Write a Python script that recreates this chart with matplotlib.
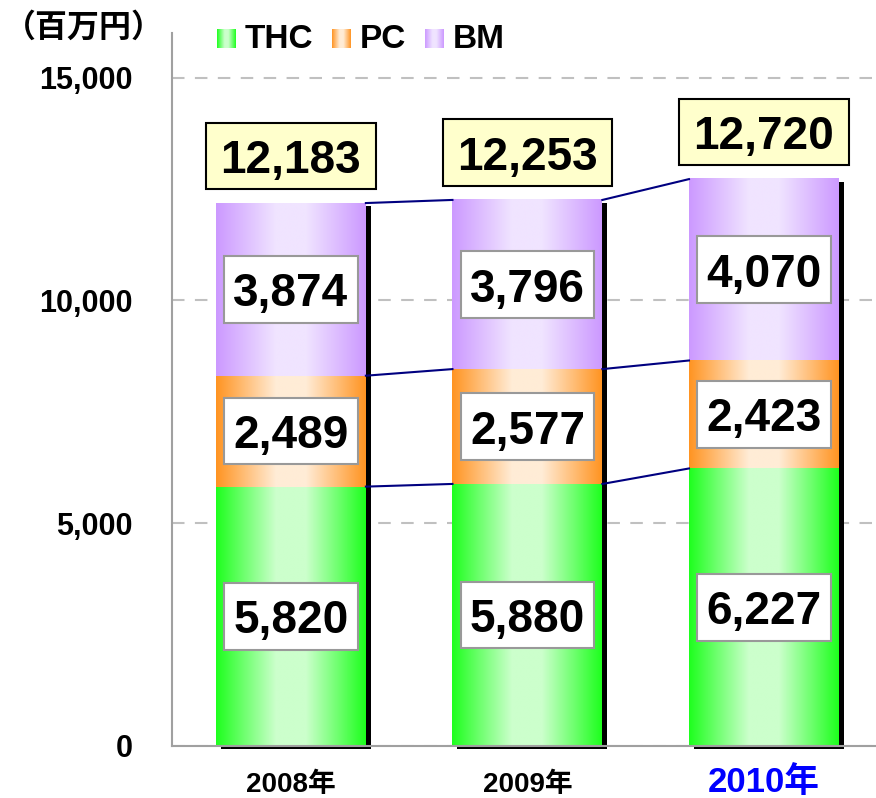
import numpy as np
import matplotlib.pyplot as plt
from matplotlib.colors import LinearSegmentedColormap
from matplotlib.patches import Rectangle
from matplotlib.transforms import Affine2D, ScaledTranslation

years = ["2008年", "2009年", "2010年"]
thc = [5820, 5880, 6227]
pc = [2489, 2577, 2423]
bm = [3874, 3796, 4070]
series = ["THC", "PC", "BM"]

sat_colors = {"THC": "#1eff1e", "PC": "#ff9422", "BM": "#cc99ff"}
light_colors = {"THC": "#ccffcc", "PC": "#ffecd6", "BM": "#f0e4ff"}

num_font = ["Liberation Sans", "Noto Sans CJK JP"]
cjk_font = ["Noto Sans CJK JP", "DejaVu Sans"]

DPI = 100


def grad_cmap(name):
    s, l = sat_colors[name], light_colors[name]
    return LinearSegmentedColormap.from_list(
        name, [(0, s), (0.4, l), (0.6, l), (1, s)])


def boxed_label(ax, text, xy, dy, box_w, box_h, face, edge):
    # box size given in points, anchored at a data point
    tr = Affine2D().scale(DPI / 72) + ScaledTranslation(xy[0], xy[1], ax.transData)
    ax.add_patch(Rectangle((-box_w / 2, dy - box_h / 2), box_w, box_h,
                           facecolor=face, edgecolor=edge, lw=1.5,
                           transform=tr, zorder=5, clip_on=False))
    ax.annotate(text, xy, xytext=(0, dy), textcoords="offset points",
                ha="center", va="center_baseline", fontsize=33,
                fontweight="bold", family=num_font, color="black", zorder=6)


grad = np.linspace(0, 1, 256).reshape(1, -1)

fig = plt.figure(figsize=(8.76, 7.98), dpi=DPI)
ax = fig.add_axes([0.1963, 0.0652, 0.8037, 0.8935])

x = np.arange(len(years))
width = 0.634
data = {"THC": thc, "PC": pc, "BM": bm}
bottoms = np.zeros(len(years))
tops = {}
shadow_tr = ax.transData + ScaledTranslation(5 / DPI, -3 / DPI, fig.dpi_scale_trans)

totals = np.array(thc) + np.array(pc) + np.array(bm)
for i in range(len(years)):
    ax.add_patch(Rectangle((x[i] - width / 2, 0), width, totals[i],
                           facecolor="black", edgecolor="none",
                           transform=shadow_tr, zorder=1, clip_on=False))

for name in series:
    vals = np.array(data[name])
    for i in range(len(years)):
        ax.imshow(grad, cmap=grad_cmap(name), aspect="auto",
                  interpolation="bilinear",
                  extent=[x[i] - width / 2, x[i] + width / 2,
                          bottoms[i], bottoms[i] + vals[i]], zorder=2)
        boxed_label(ax, f"{vals[i]:,}", (x[i], bottoms[i] + vals[i] / 2),
                    0, 96, 48, "white", "#999999")
    bottoms = bottoms + vals
    tops[name] = bottoms.copy()

# connecting lines between bars
for name in series:
    for i in range(len(years) - 1):
        ax.plot([x[i] + width / 2, x[i + 1] - width / 2],
                [tops[name][i], tops[name][i + 1]],
                color="#000080", lw=1.5, zorder=4)

# total labels
for i in range(len(years)):
    boxed_label(ax, f"{totals[i]:,}", (x[i], totals[i]), 34, 122, 48,
                "#ffffcc", "black")

ax.set_xlim(-0.503, 2.474)
ax.set_ylim(0, 16000)
ax.set_yticks([0, 5000, 10000, 15000])
ax.set_yticklabels([f"{v:,}" for v in [0, 5000, 10000, 15000]],
                   fontsize=22, fontweight="bold", family=num_font)
ax.set_xticks(x)
ax.set_xticklabels(years)
for k, lab in enumerate(ax.get_xticklabels()):
    lab.set_family(num_font)
    lab.set_fontweight("bold")
    lab.set_verticalalignment("baseline")
    if k == 2:
        lab.set_fontsize(25)
        lab.set_color("#0000ff")
    else:
        lab.set_fontsize(20)
        lab.set_color("black")
ax.tick_params(axis="y", length=0, pad=28)
ax.tick_params(axis="x", length=0, pad=33)
ax.grid(axis="y", color="#c0c0c0", linestyle=(0, (6, 5)), lw=1.5)
ax.set_axisbelow(True)
for side in ["top", "right"]:
    ax.spines[side].set_visible(False)
for side in ["left", "bottom"]:
    ax.spines[side].set_color("#a0a0a0")
    ax.spines[side].set_linewidth(1.5)

fig.text(4 / 876, 1 - 28 / 798, "（百万円）", fontsize=23, fontweight="bold",
         family=cjk_font, ha="left", va="center")

# legend with gradient squares
leg_x = [217, 332, 425]
for name, lx in zip(series, leg_x):
    lax = fig.add_axes([lx / 876, 1 - 48 / 798, 19 / 876, 19 / 798])
    lax.imshow(grad, cmap=grad_cmap(name), aspect="auto", interpolation="bilinear")
    lax.axis("off")
    fig.text((lx + 28) / 876, 1 - 39 / 798, name, fontsize=24, fontweight="bold",
             family=num_font, ha="left", va="center")

fig.savefig("out.png", dpi=DPI)
